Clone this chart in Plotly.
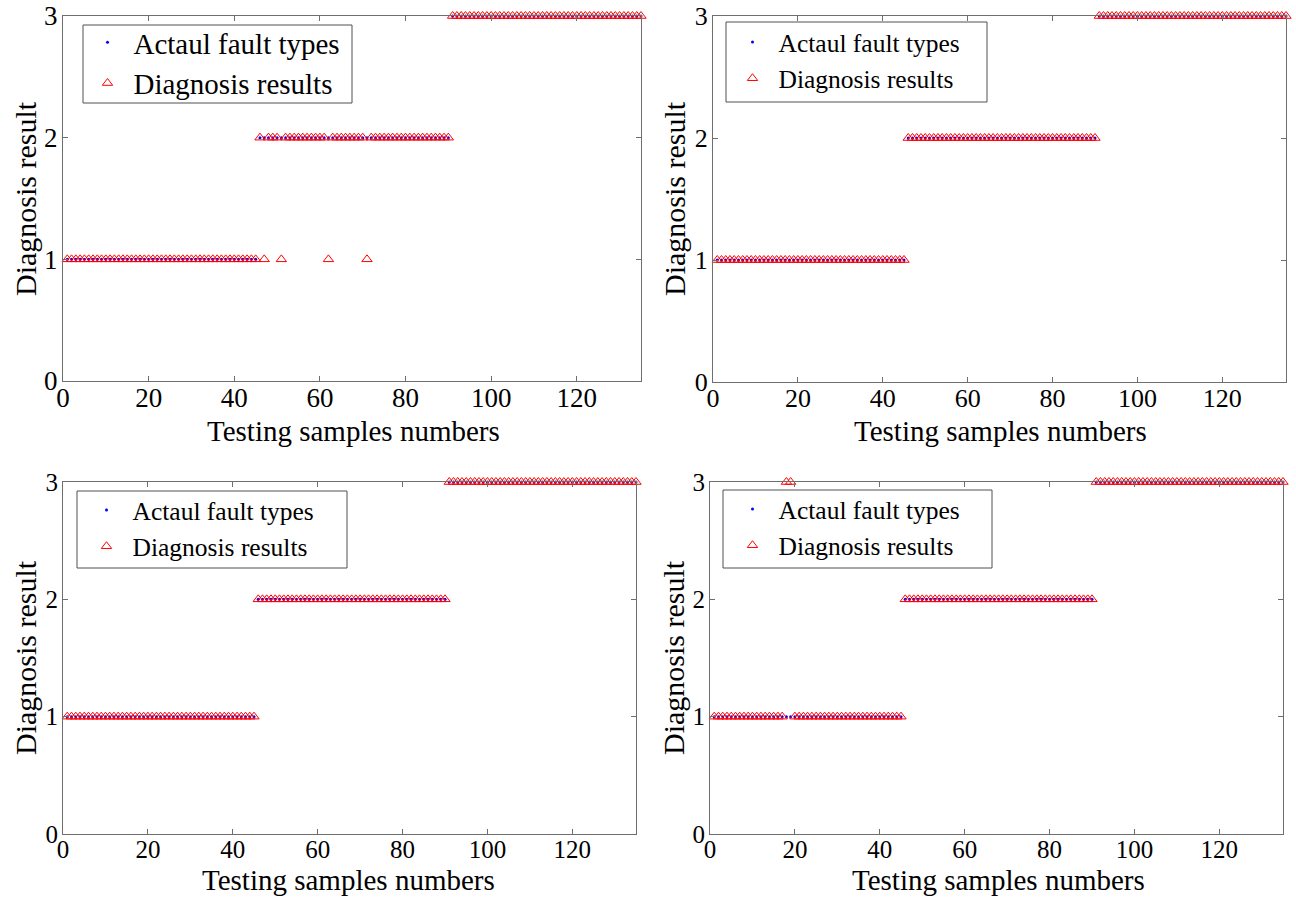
import plotly.graph_objects as go

# ---------------- data ----------------
samples = list(range(1, 136))

actual_types = [
    1, 1, 1, 1, 1, 1, 1, 1, 1, 1, 1, 1, 1, 1, 1, 1, 1, 1, 1, 1, 1, 1, 1, 1, 1, 1, 1, 1, 1, 1, 1, 1, 1, 1, 1, 1, 1, 1, 1, 1, 1, 1, 1, 1, 1,
    2, 2, 2, 2, 2, 2, 2, 2, 2, 2, 2, 2, 2, 2, 2, 2, 2, 2, 2, 2, 2, 2, 2, 2, 2, 2, 2, 2, 2, 2, 2, 2, 2, 2, 2, 2, 2, 2, 2, 2, 2, 2, 2, 2, 2,
    3, 3, 3, 3, 3, 3, 3, 3, 3, 3, 3, 3, 3, 3, 3, 3, 3, 3, 3, 3, 3, 3, 3, 3, 3, 3, 3, 3, 3, 3, 3, 3, 3, 3, 3, 3, 3, 3, 3, 3, 3, 3, 3, 3, 3,
]

# top-left panel: samples 47, 51, 62, 71 misdiagnosed as type 1
diag_top_left = [
    1, 1, 1, 1, 1, 1, 1, 1, 1, 1, 1, 1, 1, 1, 1, 1, 1, 1, 1, 1, 1, 1, 1, 1, 1, 1, 1, 1, 1, 1, 1, 1, 1, 1, 1, 1, 1, 1, 1, 1, 1, 1, 1, 1, 1,
    2, 1, 2, 2, 2, 1, 2, 2, 2, 2, 2, 2, 2, 2, 2, 2, 1, 2, 2, 2, 2, 2, 2, 2, 2, 1, 2, 2, 2, 2, 2, 2, 2, 2, 2, 2, 2, 2, 2, 2, 2, 2, 2, 2, 2,
    3, 3, 3, 3, 3, 3, 3, 3, 3, 3, 3, 3, 3, 3, 3, 3, 3, 3, 3, 3, 3, 3, 3, 3, 3, 3, 3, 3, 3, 3, 3, 3, 3, 3, 3, 3, 3, 3, 3, 3, 3, 3, 3, 3, 3,
]

# top-right panel: all correct
diag_top_right = [
    1, 1, 1, 1, 1, 1, 1, 1, 1, 1, 1, 1, 1, 1, 1, 1, 1, 1, 1, 1, 1, 1, 1, 1, 1, 1, 1, 1, 1, 1, 1, 1, 1, 1, 1, 1, 1, 1, 1, 1, 1, 1, 1, 1, 1,
    2, 2, 2, 2, 2, 2, 2, 2, 2, 2, 2, 2, 2, 2, 2, 2, 2, 2, 2, 2, 2, 2, 2, 2, 2, 2, 2, 2, 2, 2, 2, 2, 2, 2, 2, 2, 2, 2, 2, 2, 2, 2, 2, 2, 2,
    3, 3, 3, 3, 3, 3, 3, 3, 3, 3, 3, 3, 3, 3, 3, 3, 3, 3, 3, 3, 3, 3, 3, 3, 3, 3, 3, 3, 3, 3, 3, 3, 3, 3, 3, 3, 3, 3, 3, 3, 3, 3, 3, 3, 3,
]

# bottom-left panel: all correct
diag_bottom_left = [
    1, 1, 1, 1, 1, 1, 1, 1, 1, 1, 1, 1, 1, 1, 1, 1, 1, 1, 1, 1, 1, 1, 1, 1, 1, 1, 1, 1, 1, 1, 1, 1, 1, 1, 1, 1, 1, 1, 1, 1, 1, 1, 1, 1, 1,
    2, 2, 2, 2, 2, 2, 2, 2, 2, 2, 2, 2, 2, 2, 2, 2, 2, 2, 2, 2, 2, 2, 2, 2, 2, 2, 2, 2, 2, 2, 2, 2, 2, 2, 2, 2, 2, 2, 2, 2, 2, 2, 2, 2, 2,
    3, 3, 3, 3, 3, 3, 3, 3, 3, 3, 3, 3, 3, 3, 3, 3, 3, 3, 3, 3, 3, 3, 3, 3, 3, 3, 3, 3, 3, 3, 3, 3, 3, 3, 3, 3, 3, 3, 3, 3, 3, 3, 3, 3, 3,
]

# bottom-right panel: samples 18, 19 misdiagnosed as type 3
diag_bottom_right = [
    1, 1, 1, 1, 1, 1, 1, 1, 1, 1, 1, 1, 1, 1, 1, 1, 1, 3, 3, 1, 1, 1, 1, 1, 1, 1, 1, 1, 1, 1, 1, 1, 1, 1, 1, 1, 1, 1, 1, 1, 1, 1, 1, 1, 1,
    2, 2, 2, 2, 2, 2, 2, 2, 2, 2, 2, 2, 2, 2, 2, 2, 2, 2, 2, 2, 2, 2, 2, 2, 2, 2, 2, 2, 2, 2, 2, 2, 2, 2, 2, 2, 2, 2, 2, 2, 2, 2, 2, 2, 2,
    3, 3, 3, 3, 3, 3, 3, 3, 3, 3, 3, 3, 3, 3, 3, 3, 3, 3, 3, 3, 3, 3, 3, 3, 3, 3, 3, 3, 3, 3, 3, 3, 3, 3, 3, 3, 3, 3, 3, 3, 3, 3, 3, 3, 3,
]

x_ticks = [0, 20, 40, 60, 80, 100, 120]
y_ticks = [0, 1, 2, 3]
legend_names = ["Actaul fault types", "Diagnosis results"]
x_title = "Testing samples numbers"
y_title = "Diagnosis result"

# ---------------- layout ----------------
W, H = 1296, 897
FONT = "Liberation Serif"

# box: plot area (left, right, top, bottom) in px
# leg: (legend x, legend y, font size, group gap) ; lbox: legend frame (l, r, t, b)
panels = [
    dict(diag=diag_top_left,     box=(63, 641, 16, 381),    tick=27, leg=(81.5, 17, 29, 0),
         lbox=(83, 352, 25, 103),  xt=(353, 431), yt=(25, 199)),
    dict(diag=diag_top_right,    box=(713, 1286, 16, 382),  tick=26, leg=(726.5, 19, 25.5, 0),
         lbox=(726, 987, 22, 102), xt=(1000, 431), yt=(674, 199)),
    dict(diag=diag_bottom_left,  box=(63, 636, 482, 834),   tick=25, leg=(80.5, 487, 25.5, 0),
         lbox=(77, 347, 491, 568), xt=(349, 880), yt=(25, 658)),
    dict(diag=diag_bottom_right, box=(710, 1283, 482, 834), tick=25, leg=(726.5, 486, 25.5, 0),
         lbox=(723, 992, 490, 568), xt=(998, 880), yt=(673, 658)),
]

fig = go.Figure()
layout = dict(
    width=W, height=H,
    margin=dict(l=0, r=0, t=0, b=0, autoexpand=False),
    paper_bgcolor="white", plot_bgcolor="white",
    font=dict(family=FONT, color="black"),
    showlegend=True,
)
annotations = []
shapes = []
axis_color = "#6e6e6e"

for i, p in enumerate(panels):
    n = "" if i == 0 else str(i + 1)
    leg = "legend" if i == 0 else f"legend{i + 1}"
    l, r, t, b = p["box"]
    fig.add_trace(go.Scatter(
        x=samples, y=actual_types, mode="markers", name=legend_names[0],
        marker=dict(symbol="circle", size=3, color="#0000ff"),
        xaxis="x" + n, yaxis="y" + n, legend=leg, legendgroup=f"a{i}", cliponaxis=False,
    ))
    fig.add_trace(go.Scatter(
        x=samples, y=p["diag"], mode="markers", name=legend_names[1],
        marker=dict(symbol="triangle-up-open", size=9, color="#ff0000", line=dict(width=1)),
        xaxis="x" + n, yaxis="y" + n, legend=leg, legendgroup=f"d{i}", cliponaxis=False,
    ))
    common = dict(showgrid=False, zeroline=False, showline=True, linecolor=axis_color, linewidth=1,
                  mirror="ticks", ticks="inside", ticklen=5, tickcolor=axis_color,
                  tickfont=dict(family=FONT, size=p["tick"], color="black"))
    layout["xaxis" + n] = dict(common, domain=[l / W, r / W], range=[0, 135], tickvals=x_ticks,
                               anchor="y" + n, ticklabelstandoff=-7)
    layout["yaxis" + n] = dict(common, domain=[1 - b / H, 1 - t / H], range=[0, 3], tickvals=y_ticks,
                               anchor="x" + n, ticklabelstandoff=-1)
    lx, ly, lf, gap = p["leg"]
    layout[leg] = dict(x=lx / W, y=1 - ly / H, xanchor="left", yanchor="top",
                       bgcolor="rgba(0,0,0,0)", borderwidth=0,
                       font=dict(family=FONT, size=lf, color="black"),
                       traceorder="grouped", tracegroupgap=gap, itemwidth=42)
    bl, br, bt, bb = p["lbox"]
    shapes.append(dict(type="rect", xref="paper", yref="paper", layer="above",
                       x0=bl / W, x1=br / W, y0=1 - bb / H, y1=1 - bt / H,
                       line=dict(color="#505050", width=1), fillcolor="rgba(0,0,0,0)"))
    annotations.append(dict(text=x_title, x=p["xt"][0] / W, y=1 - p["xt"][1] / H, xref="paper", yref="paper",
                            xanchor="center", yanchor="middle", showarrow=False,
                            font=dict(family=FONT, size=29, color="black")))
    annotations.append(dict(text=y_title, x=p["yt"][0] / W, y=1 - p["yt"][1] / H, xref="paper", yref="paper",
                            xanchor="center", yanchor="middle", showarrow=False, textangle=-90,
                            font=dict(family=FONT, size=30, color="black")))

layout["annotations"] = annotations
layout["shapes"] = shapes
fig.update_layout(**layout)
fig.write_html("out.html")
